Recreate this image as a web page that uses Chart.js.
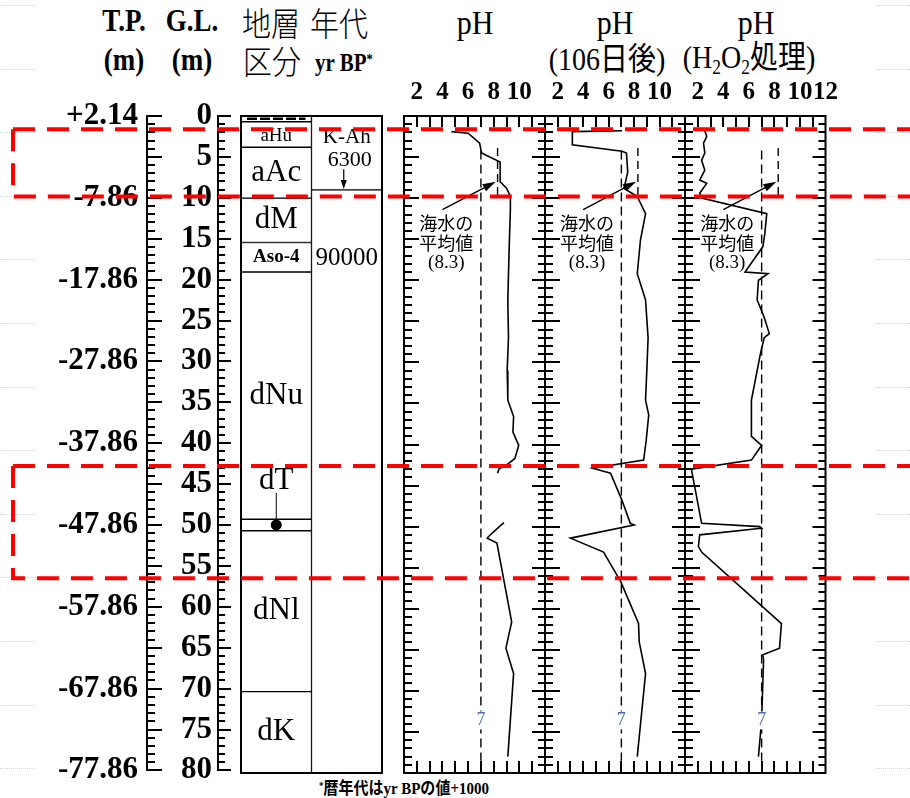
<!DOCTYPE html>
<html>
<head>
<meta charset="utf-8">
<script src="https://cdn.jsdelivr.net/npm/chart.js@4/dist/chart.umd.min.js"></script>
<style>
  body { margin: 0; background: #fff; }
  #fig { position: relative; width: 910px; height: 798px; background: #fff; overflow: hidden; }
  #fig canvas { position: absolute; top: 0; }
  .t { position: absolute; transform: translate(-50%, -50%) scaleY(1.15); white-space: nowrap; color: #000;
       font-family: 'Liberation Serif', 'Noto Sans CJK JP', serif; line-height: 1; }
  .b { font-weight: bold; }
  .j { font-family: 'Noto Sans CJK JP', sans-serif; font-weight: 300; }
  .t sub { font-size: 0.62em; vertical-align: -0.3em; }
  .t sup { font-size: 0.6em; vertical-align: 0.5em; }
  .deco { position: absolute; height: 0; border-top: 1px dotted #c9d6f2; }
</style>
</head>
<body>
<div id="fig">
  <div class="t b" style="left:124px;top:21px;font-size:27px">T.P.</div>
  <div class="t b" style="left:124px;top:60px;font-size:27px">(m)</div>
  <div class="t b" style="left:192px;top:21px;font-size:27px">G.L.</div>
  <div class="t b" style="left:192px;top:60px;font-size:27px">(m)</div>
  <div class="t j" style="left:271px;top:22px;font-size:29px">地層</div>
  <div class="t j" style="left:339px;top:22px;font-size:29px">年代</div>
  <div class="t j" style="left:272px;top:60px;font-size:29px">区分</div>
  <div class="t b" style="left:344px;top:64px;font-size:21px">yr BP<sup>*</sup></div>
  <div class="t" style="left:475px;top:22px;font-size:30px">pH</div>
  <div class="t" style="left:615px;top:22px;font-size:30px">pH</div>
  <div class="t" style="left:756px;top:22px;font-size:30px">pH</div>
  <div class="t" style="left:607px;top:60px;font-size:28px">(106日後)</div>
  <div class="t" style="left:749px;top:60px;font-size:28px">(H<sub>2</sub>O<sub>2</sub>処理)</div>
  <div class="t b" style="left:404px;top:789px;font-size:15px"><sup>*</sup>暦年代はyr BPの値+1000</div>

  <canvas id="strata" width="161" height="798" style="left:231px"></canvas>
  <canvas id="ph1" width="181" height="798" style="left:384px"></canvas>
  <canvas id="ph2" width="180" height="798" style="left:525px"></canvas>
  <canvas id="ph3" width="181" height="798" style="left:665px"></canvas>
  <canvas id="depth" width="910" height="798" style="left:0"></canvas>
</div>
<script>
// depth below ground level (m) and measured pH for each profile
const depth1 = [1.9, 2.1, 3.3, 4.5, 5.6, 8.0, 8.8, 9.8, 11.4, 16.3, 22.4, 27.0, 31.0, 34.6, 36.6, 38.5, 40.1, 41.7, 42.5, 43.0, 43.5,
  null, 49.5, 49.9, 51.2, 51.4, 52.0, 61.6, 64.8, 67.9, 78.0];
const ph1 = [4.7, 6.0, 6.9, 7.05, 8.5, 8.5, 9.0, 9.3, 9.3, 9.2, 9.1, 9.15, 9.05, 9.1, 9.55, 9.5, 9.95, 9.65, 9.0, 8.4, 8.3,
  null, 8.8, 8.5, 7.6, 7.5, 8.25, 9.4, 8.95, 9.55, 9.1];

// after 106 days
const depth2 = [1.8, 1.9, 3.5, 4.3, 4.5, 6.8, 8.2, 8.8, 9.8, 11.9, 15.1, 19.2, 22.4, 27.0, 31.0, 34.6, 36.4, 39.5, 41.9, 42.9,
  43.5, 46.8, 49.6, 49.8, 51.4, 53.1, 56.7, 61.8, 64.0, 67.9, 78.0];
const ph2 = [7.05, 3.15, 3.15, 7.05, 7.4, 7.5, 7.3, 7.2, 8.25, 8.9, 8.5, 8.25, 8.9, 9.1, 9.0, 8.9, 9.15, 8.95, 8.75, 4.75,
  6.15, 7.05, 7.7, 8.0, 3.0, 5.6, 6.95, 8.35, 8.4, 8.9, 8.25];

// H2O2 treated
const depth3 = [1.8, 2.5, 3.3, 4.5, 5.4, 6.6, 7.8, 8.2, 9.4, 10.0, 11.9, 14.3, 15.9, 19.0, 19.2, 20.0, 22.4, 24.5, 26.5, 27.0,
  29.0, 34.6, 39.0, 40.1, 41.9, 43.0, 49.6, 50.0, 50.2, 51.0, 52.4, 53.1, 61.8, 64.8, 65.6, 66.3, 73.6, 78.0];
const ph3 = [2.55, 2.7, 2.45, 2.55, 2.3, 2.55, 2.15, 2.7, 2.15, 2.3, 7.4, 7.25, 7.1, 5.7, 7.5, 6.75, 6.65, 7.2, 7.6, 7.2,
  6.9, 6.2, 6.2, 7.0, 6.2, 1.5, 2.3, 6.85, 7.0, 2.15, 2.05, 2.3, 8.55, 8.4, 7.1, 7.15, 7.0, 6.75];

const neutralPH = 7;
const seawaterPH = 8.3;
const neutralLine = [4.2, 78.5];
const seawaterLine = [3.9, 9.8];

// stratigraphy (m below ground level)
const layerNames = ['', 'aHu', 'aAc', 'dM', 'Aso-4', 'dNu', 'dT', 'dNl', 'dK'];
const layerTop = [0, 0.7, 3.8, 10.0, 15.4, 19.0, 49.1, 50.5, 70.1];
const layerBottom = [0.7, 3.8, 10.0, 15.4, 19.0, 49.1, 50.5, 70.1, 80];

// ages: K-Ah horizon and Aso-4
const ageTop = [0, 9.0];
const ageBottom = [9.0, 80];
const ageNames = ['K-Ah', ''];
const ageValues = [6300, 90000];
const ageLabelDepth = [5.4, 17.3];

const highlightTop = [1.62, 42.8];
const highlightBottom = [9.83, 56.5];

const DEPTH_MAX = 80;
const TP_AT_SURFACE = 2.14;
const TOP_PX = 116;
const BOTTOM_PAD = 25;
const SERIF = "'Liberation Serif', 'Noto Sans CJK JP', serif";

Chart.defaults.font.family = SERIF;
Chart.defaults.color = '#000';

function drawDepthTicks(ctx, scale, x, dir, major, minor, from, to) {
  ctx.beginPath();
  for (let d = from; d <= to; d++) {
    const y = Math.round(scale.getPixelForValue(d));
    const len = d % 5 === 0 ? major : minor;
    ctx.moveTo(x, y);
    ctx.lineTo(x + dir * len, y);
  }
  ctx.stroke();
}

function arrow(ctx, x1, y1, x2, y2, head, half) {
  const a = Math.atan2(y2 - y1, x2 - x1);
  ctx.beginPath();
  ctx.moveTo(x1, y1);
  ctx.lineTo(x2 - Math.cos(a) * head * 0.6, y2 - Math.sin(a) * head * 0.6);
  ctx.stroke();
  ctx.beginPath();
  ctx.moveTo(x2, y2);
  ctx.lineTo(x2 - Math.cos(a) * head - Math.sin(a) * half, y2 - Math.sin(a) * head + Math.cos(a) * half);
  ctx.lineTo(x2 - Math.cos(a) * head + Math.sin(a) * half, y2 - Math.sin(a) * head - Math.cos(a) * half);
  ctx.closePath();
  ctx.fill();
}

// frame, inward ticks and the seawater note of a pH panel
const panelDecor = {
  id: 'panelDecor',
  afterDatasetsDraw(chart) {
    const {ctx, chartArea: a, scales: {x, y}} = chart;
    ctx.save();
    ctx.strokeStyle = '#000';
    ctx.fillStyle = '#000';
    ctx.lineWidth = 2;
    ctx.strokeRect(a.left, a.top, a.right - a.left, a.bottom - a.top);
    drawDepthTicks(ctx, y, a.left, 1, 15, 8, 1, DEPTH_MAX - 1);
    drawDepthTicks(ctx, y, a.right, -1, 13, 7, 1, DEPTH_MAX - 1);
    ctx.beginPath();
    for (let p = x.min + 1; p < x.max; p++) {
      const px = Math.round(x.getPixelForValue(p));
      ctx.moveTo(px, a.top); ctx.lineTo(px, a.top + 11);
      ctx.moveTo(px, a.bottom); ctx.lineTo(px, a.bottom - 12);
    }
    ctx.stroke();

    ctx.lineWidth = 1.4;
    arrow(ctx, x.getPixelForValue(4.0), y.getPixelForValue(11.4),
      x.getPixelForValue(8.15), y.getPixelForValue(8.0), 13, 4);

    ctx.textAlign = 'center';
    ctx.textBaseline = 'middle';
    ctx.font = '18px ' + SERIF;
    const cx = x.getPixelForValue(4.3);
    ctx.fillText('海水の', cx, y.getPixelForValue(13.3));
    ctx.fillText('平均値', cx, y.getPixelForValue(15.7));
    ctx.font = '19px ' + SERIF;
    ctx.fillText('(' + seawaterPH + ')', cx, y.getPixelForValue(17.9));

    // value of the neutral reference line, set into a break of the dashes
    const nx = x.getPixelForValue(neutralPH);
    const ny = y.getPixelForValue(73.6);
    ctx.fillStyle = '#fff';
    ctx.fillRect(nx - 5, ny - 9, 10, 18);
    ctx.fillStyle = '#4a6db4';
    ctx.font = '18px ' + SERIF;
    ctx.fillText(String(neutralPH), nx, ny);
    ctx.restore();
  }
};

function makePanel(id, depths, values, maxLabel) {
  const profile = depths.map((d, i) => d === null ? {x: null, y: null} : {x: values[i], y: d});
  new Chart(document.getElementById(id), {
    type: 'scatter',
    data: {
      datasets: [
        { data: profile, showLine: true, borderColor: '#000', borderWidth: 1.6, pointRadius: 0, spanGaps: false },
        { data: neutralLine.map(d => ({x: neutralPH, y: d})), showLine: true, borderColor: '#000',
          borderWidth: 1.4, borderDash: [9, 5], pointRadius: 0 },
        { data: seawaterLine.map(d => ({x: seawaterPH, y: d})), showLine: true, borderColor: '#000',
          borderWidth: 1.4, borderDash: [8, 5], pointRadius: 0 }
      ]
    },
    options: {
      responsive: false,
      animation: false,
      events: [],
      layout: { padding: { left: 20, right: 20, top: 0, bottom: BOTTOM_PAD } },
      plugins: { legend: { display: false }, tooltip: { enabled: false } },
      scales: {
        x: {
          type: 'linear', position: 'top', min: 1, max: 12,
          afterFit: s => { s.height = TOP_PX; },
          grid: { display: false, drawTicks: false },
          border: { display: false },
          ticks: {
            stepSize: 1, autoSkip: false, maxRotation: 0, padding: 8,
            font: { size: 25, weight: 'bold' },
            callback: v => (v % 2 === 0 && v <= maxLabel) ? String(v) : ''
          }
        },
        y: { type: 'linear', display: false, min: 0, max: DEPTH_MAX, reverse: true }
      }
    },
    plugins: [panelDecor]
  });
}

makePanel('ph1', depth1, ph1, 10);
makePanel('ph2', depth2, ph2, 10);
makePanel('ph3', depth3, ph3, 12);

// labels inside the stratigraphic column
const strataDecor = {
  id: 'strataDecor',
  afterDatasetsDraw(chart) {
    const {ctx, chartArea: a, scales: {y}} = chart;
    ctx.save();
    ctx.strokeStyle = '#000';
    ctx.fillStyle = '#000';
    ctx.textAlign = 'center';
    ctx.textBaseline = 'middle';
    layerNames.forEach((name, i) => {
      const bar = chart.getDatasetMeta(i).data[0];
      const cy = (bar.y + bar.base) / 2;
      if (name === '') {
        ctx.lineWidth = 2.5;
        ctx.setLineDash([10, 3]);
        ctx.beginPath();
        ctx.moveTo(bar.x - bar.width / 2 + 6, cy);
        ctx.lineTo(bar.x + bar.width / 2 - 6, cy);
        ctx.stroke();
        ctx.setLineDash([]);
        return;
      }
      if (name === 'dT') {
        ctx.beginPath();
        ctx.arc(bar.x, cy, 5.5, 0, Math.PI * 2);
        ctx.fill();
        ctx.lineWidth = 1;
        ctx.beginPath();
        ctx.moveTo(bar.x, cy);
        ctx.lineTo(bar.x, y.getPixelForValue(45.9));
        ctx.stroke();
        ctx.font = '31px ' + SERIF;
        ctx.fillText(name, bar.x, y.getPixelForValue(44.4));
        return;
      }
      ctx.font = (name === 'Aso-4' ? 'bold 19px ' : name === 'aHu' ? '19px ' : '31px ') + SERIF;
      ctx.fillText(name, bar.x, cy + (name === 'aHu' ? 2 : 0));
    });

    // age bars sit in the second category
    ageNames.forEach((name, i) => {
      const bar = chart.getDatasetMeta(layerNames.length + i).data[1];
      const ly = y.getPixelForValue(ageLabelDepth[i]);
      if (name) {
        ctx.font = '21px ' + SERIF;
        ctx.fillText(name, bar.x, y.getPixelForValue(2.6));
        ctx.font = '22px ' + SERIF;
        ctx.fillText(String(ageValues[i]), bar.x + 3, ly);
        ctx.lineWidth = 1.2;
        arrow(ctx, bar.x - 3, ly + 9, bar.x - 3, y.getPixelForValue(ageBottom[i]) - 1, 9, 3);
      } else {
        ctx.font = '25px ' + SERIF;
        ctx.fillText(String(ageValues[i]), bar.x, ly);
      }
    });

    ctx.lineWidth = 2;
    ctx.strokeRect(a.left, a.top, a.right - a.left, a.bottom - a.top);
    ctx.restore();
  }
};

const barStyle = {
  backgroundColor: '#fff', borderColor: '#000', borderWidth: 1, borderSkipped: false,
  grouped: false, categoryPercentage: 1, barPercentage: 1
};

new Chart(document.getElementById('strata'), {
  type: 'bar',
  data: {
    labels: ['地層区分', '年代'],
    datasets: [
      ...layerNames.map((name, i) => ({ label: name, data: [[layerTop[i], layerBottom[i]], null], ...barStyle })),
      ...ageNames.map((name, i) => ({ label: name, data: [null, [ageTop[i], ageBottom[i]]], ...barStyle }))
    ]
  },
  options: {
    responsive: false,
    animation: false,
    events: [],
    layout: { padding: { left: 10, right: 10, top: TOP_PX, bottom: BOTTOM_PAD } },
    plugins: { legend: { display: false }, tooltip: { enabled: false } },
    scales: {
      x: { display: false },
      y: { display: false, min: 0, max: DEPTH_MAX, reverse: true }
    }
  },
  plugins: [strataDecor]
});

// T.P. / G.L. depth axes and the highlighted intervals across the figure
const depthDecor = {
  id: 'depthDecor',
  afterDraw(chart) {
    const {ctx, scales: {tp, gl}} = chart;
    ctx.save();
    ctx.strokeStyle = '#000';
    ctx.lineWidth = 2;
    drawDepthTicks(ctx, gl, tp.right, 1, 15, 8, 0, DEPTH_MAX);
    drawDepthTicks(ctx, gl, gl.right, 1, 13, 7, 0, DEPTH_MAX);

    ctx.strokeStyle = '#ff0000';
    ctx.lineWidth = 4;
    ctx.setLineDash([22, 12]);
    const x0 = 13, x1 = chart.width + 5;
    highlightTop.forEach((top, i) => {
      const y1 = gl.getPixelForValue(top);
      const y2 = gl.getPixelForValue(highlightBottom[i]);
      ctx.beginPath();
      ctx.moveTo(x0, y1); ctx.lineTo(x1, y1);
      ctx.stroke();
      ctx.beginPath();
      ctx.moveTo(x0, y1); ctx.lineTo(x0, y2); ctx.lineTo(x1, y2);
      ctx.stroke();
    });
    ctx.restore();
  }
};

const axisFont = { size: 31, weight: 'bold' };
new Chart(document.getElementById('depth'), {
  type: 'scatter',
  data: { datasets: [] },
  options: {
    responsive: false,
    animation: false,
    events: [],
    layout: { padding: { left: 0, right: 0, top: TOP_PX, bottom: BOTTOM_PAD } },
    plugins: { legend: { display: false }, tooltip: { enabled: false } },
    scales: {
      x: { display: false, min: 0, max: 1 },
      y: { display: false, min: 0, max: DEPTH_MAX, reverse: true },
      tp: {
        axis: 'y', type: 'linear', position: 'left', weight: 2, min: 0, max: DEPTH_MAX, reverse: true,
        afterFit: s => { s.width = 147; },
        grid: { display: false, drawTicks: false },
        border: { color: '#000', width: 2 },
        ticks: {
          stepSize: 10, autoSkip: false, padding: 9, font: axisFont,
          callback: v => {
            const t = TP_AT_SURFACE - v;
            return (t > 0 ? '+' : '') + t.toFixed(2);
          }
        }
      },
      gl: {
        axis: 'y', type: 'linear', position: 'left', weight: 1, min: 0, max: DEPTH_MAX, reverse: true,
        afterFit: s => { s.width = 71; },
        grid: { display: false, drawTicks: false },
        border: { color: '#000', width: 2 },
        ticks: { stepSize: 5, autoSkip: false, padding: 6, font: axisFont }
      }
    }
  },
  plugins: [depthDecor]
});

// faint template guides along the page edges
const fig = document.getElementById('fig');
for (let y = 5; y < 798; y += 63.6) {
  [[0, 36], [876, 34]].forEach(([left, w]) => {
    const d = document.createElement('div');
    d.className = 'deco';
    d.style.left = left + 'px';
    d.style.top = Math.round(y) + 'px';
    d.style.width = w + 'px';
    fig.insertBefore(d, fig.firstChild);
  });
}
</script>
</body>
</html>
